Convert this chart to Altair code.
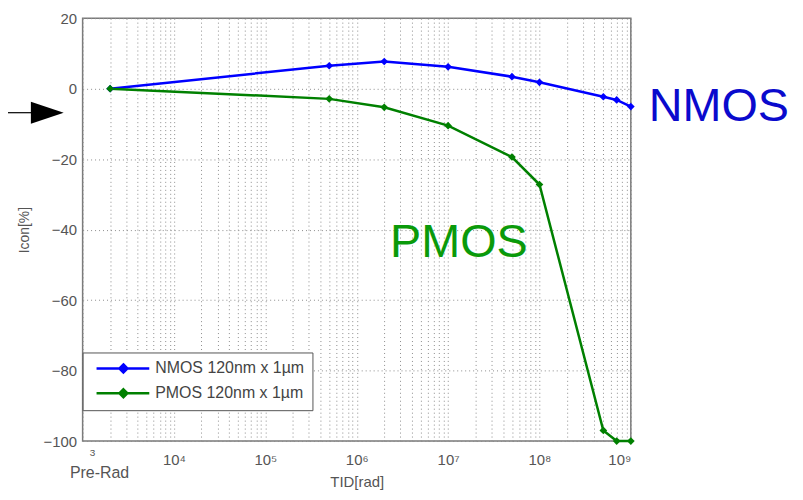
import altair as alt
import pandas as pd

# ---- data ----
tid = [2e3, 5e5, 2e6, 1e7, 5e7, 1e8, 5e8, 7e8, 1e9]
nmos = [0, 6.5, 7.7, 6.2, 3.4, 1.8, -2.3, -3.2, -5.1]
pmos = [0, -2.9, -5.3, -10.5, -19.4, -27.2, -97, -100, -100]
series = ["NMOS 120nm x 1µm", "PMOS 120nm x 1µm"]
colors = ["#0000ff", "#008000"]

x_major = [1e3, 1e4, 1e5, 1e6, 1e7, 1e8, 1e9]
x_major_labels = ["", "10⁴", "10⁵", "10⁶", "10⁷", "10⁸", "10⁹"]
x_minor = [m * d for d in [1e3, 1e4, 1e5, 1e6, 1e7, 1e8] for m in range(2, 10)]
y_ticks = [-100, -80, -60, -40, -20, 0, 20]

FONT = "Liberation Sans"

rows = []
for t, v in zip(tid, nmos):
    rows.append({"tid": t, "icon": v, "series": series[0]})
for t, v in zip(tid, pmos):
    rows.append({"tid": t, "icon": v, "series": series[1]})
df = pd.DataFrame(rows)

label_expr = " : ".join(
    f"datum.value == {int(v)} ? '{l}'" for v, l in zip(x_major, x_major_labels)
) + " : ''"

x_enc = alt.X(
    "tid:Q",
    scale=alt.Scale(type="log", domain=[x_major[0], x_major[-1]], nice=False),
    axis=alt.Axis(
        values=sorted(x_major + x_minor),
        labelExpr=label_expr,
        title="TID[rad]",
        titleY=41,
        titleBaseline="middle",
        labelPadding=12,
        labelFontSize=15,
        titleFontSize=15,
    ),
)
y_enc = alt.Y(
    "icon:Q",
    scale=alt.Scale(domain=[-100, 20], nice=False),
    axis=alt.Axis(values=y_ticks, title="Icon[%]", labelPadding=6,
                  labelFontSize=15, titleFontSize=14, titleX=-51),
)

legend = alt.Legend(
    orient="none", legendX=0, legendY=336, title=None,
    padding=8, strokeColor="#555", fillColor="white",
    symbolType="M-0.4,0H10.2M5,-0.8L5.8,0L5,0.8L4.2,0Z",
    symbolSize=100, symbolStrokeWidth=2.5,
    labelFontSize=16, labelFont=FONT, labelColor="#444",
    labelLimit=300, rowPadding=7, labelOffset=49,
)
color_enc = alt.Color("series:N", scale=alt.Scale(domain=series, range=colors), legend=legend)

base = alt.Chart(df)
lines = base.mark_line(strokeWidth=2.5).encode(x=x_enc, y=y_enc, color=color_enc, detail="series:N")
points = base.mark_point(shape="diamond", filled=True, size=60, opacity=1).encode(
    x="tid:Q", y="icon:Q", color=color_enc
)

nmos_lab = alt.Chart(pd.DataFrame({"tid": [tid[-1]], "icon": [nmos[-1]], "t": ["NMOS"]})).mark_text(
    align="left", baseline="middle", dx=18, fontSize=47, font=FONT, color="#0a0acd"
).encode(x="tid:Q", y="icon:Q", text="t:N")

pmos_lab = alt.Chart(pd.DataFrame({"t": ["PMOS"]})).mark_text(
    align="left", baseline="middle", fontSize=47, font=FONT, color="#0a9a0a"
).encode(x=alt.value(309), y=alt.value(226), text="t:N")

prerad = alt.Chart(pd.DataFrame({"tid": [x_major[0]], "t": ["Pre-Rad"]})).mark_text(
    align="center", baseline="middle", dx=17, fontSize=16, font=FONT, color="#555"
).encode(x="tid:Q", y=alt.value(457), text="t:N")

three = alt.Chart(pd.DataFrame({"tid": [x_major[0]], "t": ["3"]})).mark_text(
    align="center", baseline="middle", dx=10, fontSize=10, font=FONT, color="#555"
).encode(x="tid:Q", y=alt.value(437), text="t:N")

arrow_line = alt.Chart(pd.DataFrame({"a": [0]})).mark_rule(color="black", strokeWidth=1.2).encode(
    x=alt.value(-75), x2=alt.value(-50), y=alt.value(95)
)
arrow_head = alt.Chart(pd.DataFrame({"a": [0]})).mark_point(
    shape="M-1,-0.667L1,0L-1,0.667Z", filled=True, color="black", size=1089, opacity=1
).encode(x=alt.value(-35.5), y=alt.value(95))

chart = alt.layer(
    lines, points, nmos_lab, pmos_lab, prerad, three, arrow_line, arrow_head
).properties(
    width=551, height=425,
    autosize=alt.AutoSizeParams(type="none"),
    padding={"left": 75, "top": 9, "right": 165, "bottom": 50},
).configure_view(
    stroke="#7a7a7a", strokeWidth=1.5
).configure_axis(
    domain=False, ticks=False, grid=True, gridColor="#8c8c8c", gridDash=[1, 3],
    gridWidth=1, labelFont=FONT, titleFont=FONT, labelColor="#555", titleColor="#555",
    titleFontWeight="normal",
)

chart.save("out.html", embed_options={"renderer": "svg", "actions": False})
